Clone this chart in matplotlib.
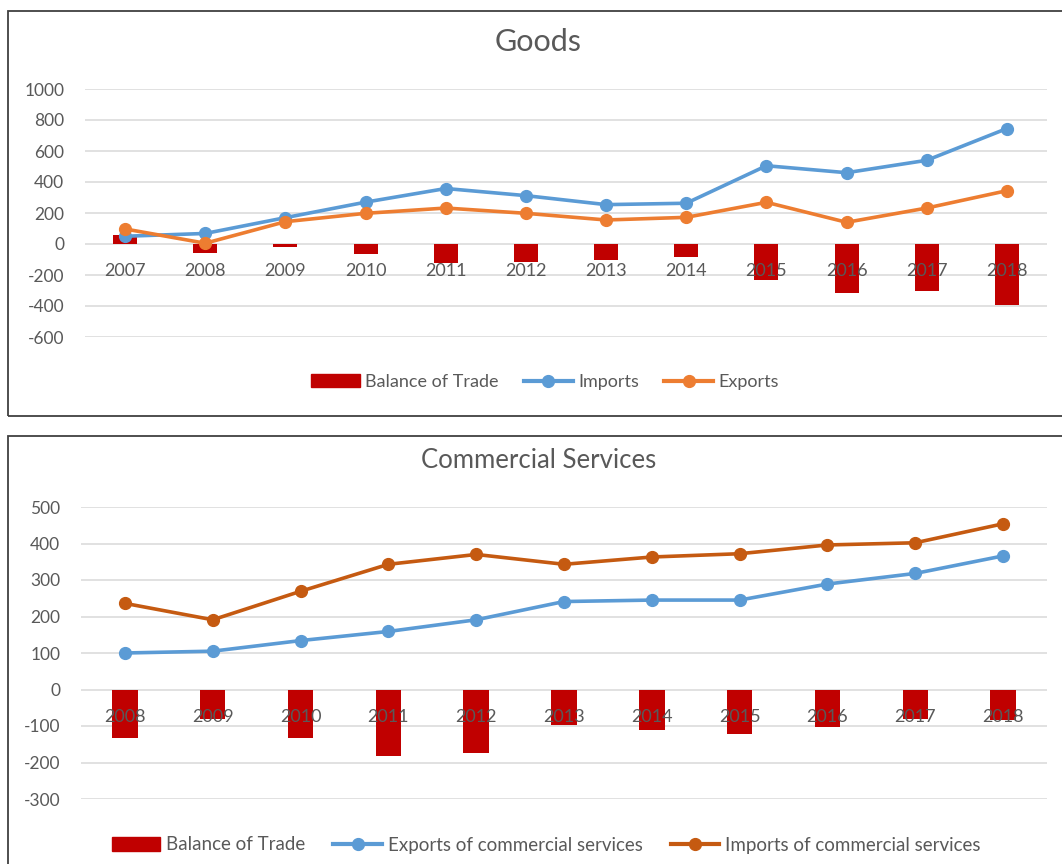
import matplotlib
matplotlib.use("Agg")
import matplotlib.pyplot as plt
from matplotlib.patches import Rectangle, Patch
from matplotlib.lines import Line2D

plt.rcParams['font.family'] = ['Lato', 'DejaVu Sans']

# Goods, 2007-2018
goods_years = ['2007', '2008', '2009', '2010', '2011', '2012',
               '2013', '2014', '2015', '2016', '2017', '2018']
goods_imports = [50, 68, 170, 270, 358, 312, 254, 263, 505, 460, 540, 745]
goods_exports = [97, 5, 144, 198, 232, 198, 155, 172, 269, 140, 232, 344]
goods_balance = [55, -55, -20, -65, -120, -115, -105, -85, -235, -315, -305, -395]
goods_yticks = [1000, 800, 600, 400, 200, 0, -200, -400, -600]

# Commercial services, 2008-2018
serv_years = ['2008', '2009', '2010', '2011', '2012', '2013',
              '2014', '2015', '2016', '2017', '2018']
serv_exports = [100, 105, 134, 159, 191, 241, 245, 245, 289, 318, 366]
serv_imports = [236, 191, 269, 343, 370, 343, 363, 372, 396, 402, 454]
serv_balance = [-132, -80, -132, -181, -175, -97, -112, -122, -103, -80, -83]
serv_yticks = [500, 400, 300, 200, 100, 0, -100, -200, -300]

RED = '#C00000'
BLUE = '#5B9BD5'
ORANGE = '#ED7D31'
DARK_ORANGE = '#C55A11'
GREY_TEXT = '#595959'
GRID = '#D9D9D9'

W, H = 1062, 864
fig = plt.figure(figsize=(W / 100, H / 100), dpi=100)


def px_box(left, top, right, bottom):
    return [left / W, 1 - bottom / H, (right - left) / W, (bottom - top) / H]


def draw_chart(ax, years, balance, s1, s2, c1, c2, yticks, ypad, barw):
    x = list(range(len(years)))
    ax.bar(x, balance, width=barw, color=RED, zorder=2)
    ax.plot(x, s1, color=c1, lw=2.6, marker='o', ms=8.5, zorder=4)
    ax.plot(x, s2, color=c2, lw=2.6, marker='o', ms=8.5, zorder=4)
    ax.set_xlim(-0.5, len(years) - 0.5)
    ax.set_ylim(min(yticks), max(yticks))
    ax.set_yticks(yticks)
    ax.set_yticklabels([str(t) for t in yticks])
    ax.set_xticks([])
    ax.tick_params(axis='y', length=0, pad=ypad, labelsize=12.5, labelcolor=GREY_TEXT)
    ax.grid(axis='y', color=GRID, lw=1.1, zorder=0)
    ax.set_axisbelow(True)
    for s in ax.spines.values():
        s.set_visible(False)
    # category labels sit just under the zero line
    for i, yr in enumerate(years):
        ax.annotate(yr, (i, 0), xytext=(0, -19.5), textcoords='offset points',
                    ha='center', va='center', fontsize=13, color=GREY_TEXT, zorder=3)


# chart frames
fig.patches.append(Rectangle((8 / W, 1 - 416 / H), 1.1, (416 - 11) / H, transform=fig.transFigure,
                             fill=False, edgecolor='#404040', lw=1.3))
fig.patches.append(Rectangle((8 / W, -0.2), 1.1, 0.2 + 1 - 436 / H, transform=fig.transFigure,
                             fill=False, edgecolor='#404040', lw=1.3))

ax1 = fig.add_axes(px_box(85, 89, 1047, 337))
draw_chart(ax1, goods_years, goods_balance, goods_imports, goods_exports,
           BLUE, ORANGE, goods_yticks, 15, 0.3)
fig.text(538 / W, 1 - 42 / H, 'Goods', ha='center', va='center', fontsize=22, color=GREY_TEXT)

ax2 = fig.add_axes(px_box(81, 507, 1047, 799))
draw_chart(ax2, serv_years, serv_balance, serv_exports, serv_imports,
           BLUE, DARK_ORANGE, serv_yticks, 15, 0.29)
fig.text(539 / W, 1 - 461 / H, 'Commercial Services', ha='center', va='center',
         fontsize=18.5, color=GREY_TEXT)


def line_handle(c):
    return Line2D([], [], color=c, lw=3, marker='o', ms=8.5)


fig.legend([Patch(color=RED), line_handle(BLUE), line_handle(ORANGE)],
           ['Balance of Trade', 'Imports', 'Exports'],
           loc='center', bbox_to_anchor=(545 / W, 1 - 382 / H), ncol=3, frameon=False,
           fontsize=13, labelcolor=GREY_TEXT, handlelength=2.7, handletextpad=0.3,
           columnspacing=1.4)
fig.legend([Patch(color=RED), line_handle(BLUE), line_handle(DARK_ORANGE)],
           ['Balance of Trade', 'Exports of commercial services', 'Imports of commercial services'],
           loc='center', bbox_to_anchor=(546 / W, 1 - 845 / H), ncol=3, frameon=False,
           fontsize=13.5, labelcolor=GREY_TEXT, handlelength=2.6, handletextpad=0.3,
           columnspacing=1.5)

fig.savefig('out.png', dpi=100)
